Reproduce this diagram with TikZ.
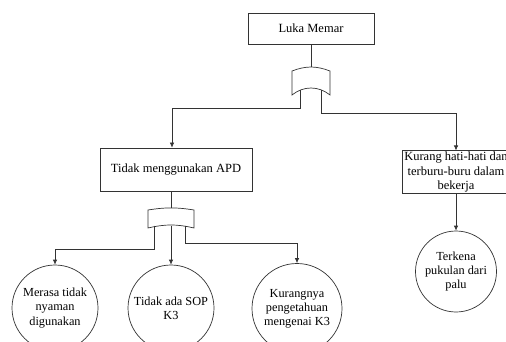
\documentclass[tikz,border=0pt]{standalone}
\usepackage{fontspec}
\setmainfont{Liberation Serif}
\usetikzlibrary{arrows.meta,calc}
\begin{document}
\begin{tikzpicture}[x=1pt,y=-1pt,
  line/.style={draw=black!80, line width=0.7pt},
  arr/.style={line, -{Latex[length=5pt,width=4.5pt]}},
  box/.style={line, rectangle, inner sep=1pt, align=center, font=\fontsize{12.5}{14.5}\selectfont},
  event/.style={line, circle, inner sep=0pt, align=center, font=\fontsize{12.3}{14.2}\selectfont},
  gatebox/.style={rectangle, inner sep=0pt, outer sep=0pt}
]
\useasboundingbox (0,0) rectangle (506,342);
\clip (0,0) rectangle (506,342);

% boxes
\node[box, minimum width=126pt, minimum height=31pt] (top) at (311,28.5) {Luka Memar};
\node[box, minimum width=152pt, minimum height=43pt] (apd) at (176,169.5) {Tidak menggunakan APD};
\node[box, minimum width=108pt, minimum height=42pt] (kur) at (456,172) {Kurang hati-hati dan\\terburu-buru dalam\\bekerja};

% gates
\node[gatebox, minimum width=38pt, minimum height=28pt] (g1) at (311,81) {};
\node[gatebox, minimum width=46pt, minimum height=20pt] (g2) at (171,218) {};
\draw[line] ([yshift=-4pt]g1.north west) to[bend left=21] ([yshift=-4pt]g1.north east)
  -- (g1.south east) to[bend right=39] (g1.south west) -- cycle;
\draw[line] ([yshift=-2pt]g2.north west) to[bend left=9] ([yshift=-2pt]g2.north east)
  -- (g2.south east) to[bend right=13] (g2.south west) -- cycle;

% events
\node[event, minimum size=86pt] (c1) at (55,308) {Merasa tidak\\nyaman\\digunakan};
\node[event, minimum size=86pt] (c2) at (171,308) {Tidak ada SOP\\K3};
\node[event, minimum size=90pt] (c3) at (297,308.5) {Kurangnya\\pengetahuan\\mengenai K3};
\node[event, minimum size=81pt] (c4) at (456,271.5) {Terkena\\pukulan dari\\palu};

% junction coordinates
\coordinate (j1) at (172,108);
\coordinate (j2) at (456,113);
\coordinate (j3) at (55,249);
\coordinate (j4) at (297,243);

% connectors
\draw[line] (top.south) -- (g1.north);
\draw[arr] ([xshift=-11pt,yshift=4.5pt]g1.south) |- (j1) -- (j1 |- apd.north);
\draw[arr] ([xshift=10pt,yshift=4.5pt]g1.south) |- (j2) -- (j2 |- kur.north);
\draw[line] (g2.north |- apd.south) -- (g2.north);
\draw[arr] ([xshift=-17pt,yshift=2.5pt]g2.south) |- (j3) -- (c1.north);
\draw[arr] ([yshift=2.5pt]g2.south) -- (c2.north);
\draw[arr] ([xshift=14pt,yshift=2.5pt]g2.south) |- (j4) -- (c3.north);
\draw[arr] (kur.south) -- (c4.north);
\end{tikzpicture}
\end{document}
